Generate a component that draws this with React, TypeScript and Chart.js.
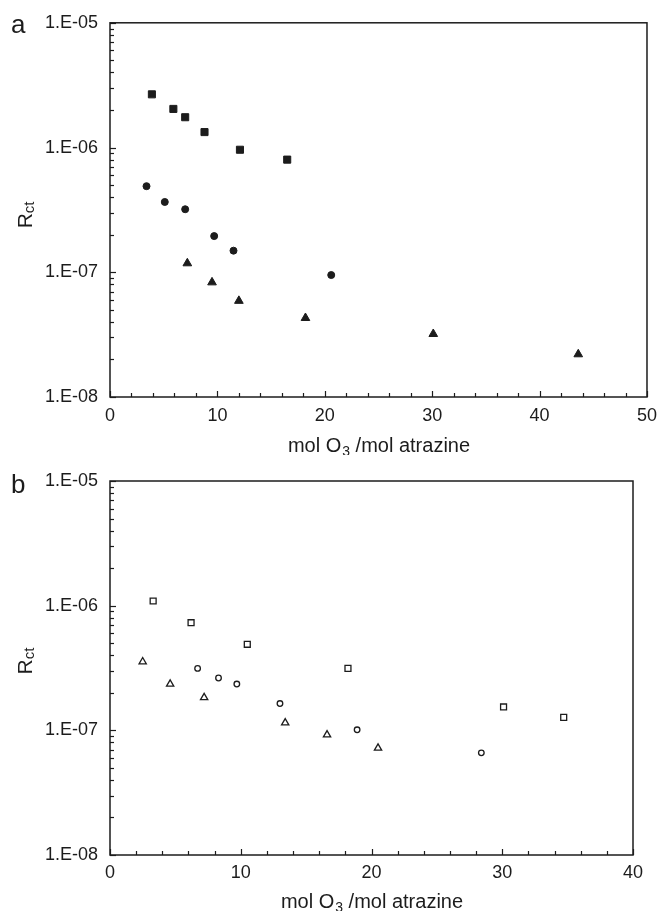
import React, { useEffect, useRef } from 'react';
import { Chart, registerables } from 'chart.js';

Chart.register(...registerables);

// ---------- data ----------
const yTickValues = [1e-8, 1e-7, 1e-6, 1e-5];
const yTickLabels = ['1.E-08', '1.E-07', '1.E-06', '1.E-05'];

const aXTickLabels = ['0', '10', '20', '30', '40', '50'];
const bXTickLabels = ['0', '10', '20', '30', '40'];

const aSquareX = [3.9, 5.9, 7.0, 8.8, 12.1, 16.5];
const aSquareY = [2.67e-6, 2.04e-6, 1.75e-6, 1.33e-6, 9.6e-7, 8.0e-7];
const aCircleX = [3.4, 5.1, 7.0, 9.7, 11.5, 20.6];
const aCircleY = [4.9e-7, 3.66e-7, 3.2e-7, 1.95e-7, 1.49e-7, 9.5e-8];
const aTriangleX = [7.2, 9.5, 12.0, 18.2, 30.1, 43.6];
const aTriangleY = [1.18e-7, 8.3e-8, 5.9e-8, 4.3e-8, 3.2e-8, 2.2e-8];

const bSquareX = [3.3, 6.2, 10.5, 18.2, 30.1, 34.7];
const bSquareY = [1.09e-6, 7.3e-7, 4.9e-7, 3.14e-7, 1.54e-7, 1.27e-7];
const bCircleX = [6.7, 8.3, 9.7, 13.0, 18.9, 28.4];
const bCircleY = [3.14e-7, 2.63e-7, 2.35e-7, 1.64e-7, 1.01e-7, 6.6e-8];
const bTriangleX = [2.5, 4.6, 7.2, 13.4, 16.6, 20.5];
const bTriangleY = [3.55e-7, 2.35e-7, 1.83e-7, 1.15e-7, 9.2e-8, 7.2e-8];

const xTitleMain = 'mol O';
const xTitleSub = '3';
const xTitleRest = ' /mol atrazine';
const yTitleMain = 'R';
const yTitleSub = 'ct';

// ---------- helpers ----------
const FONT = '"Liberation Sans", Arial, Helvetica, sans-serif';
const INK = '#1c1c1c';

const pts = (xs: number[], ys: number[]) => xs.map((x, i) => ({ x, y: ys[i] }));

const decorPlugin = {
  id: 'decor',
  beforeDatasetsDraw(chart: any) {
    const { ctx, chartArea } = chart;
    const { left, right, top, bottom } = chartArea;
    const xs = chart.scales.x;
    const ys = chart.scales.y;
    ctx.save();
    ctx.strokeStyle = INK;
    ctx.lineWidth = 1.5;
    ctx.strokeRect(left, top, right - left, bottom - top);
    ctx.lineWidth = 1.2;
    // y ticks (log, inward)
    for (let d = 0; d < yTickValues.length; d++) {
      const base = yTickValues[d];
      for (let m = 1; m <= 9; m++) {
        if (d === yTickValues.length - 1 && m > 1) break;
        const v = base * m;
        const py = Math.round(ys.getPixelForValue(v)) + 0.5;
        const len = m === 1 ? 6 : 4;
        ctx.beginPath();
        ctx.moveTo(left, py);
        ctx.lineTo(left + len, py);
        ctx.stroke();
      }
    }
    // x ticks (inward)
    for (const t of xs.ticks) {
      const px = Math.round(xs.getPixelForValue(t.value)) + 0.5;
      const major = t.value % 10 === 0;
      const len = major ? 6 : 4;
      ctx.beginPath();
      ctx.moveTo(px, bottom);
      ctx.lineTo(px, bottom - len);
      ctx.stroke();
    }
    ctx.restore();
  },
  afterDraw(chart: any, _args: any, opts: any) {
    const { ctx, chartArea } = chart;
    const { left, right, top, bottom } = chartArea;
    ctx.save();
    ctx.fillStyle = INK;
    ctx.textBaseline = 'alphabetic';
    // x title
    const big = `20px ${FONT}`;
    const small = `14px ${FONT}`;
    ctx.font = big;
    const w1 = ctx.measureText(xTitleMain).width;
    const w3 = ctx.measureText(xTitleRest).width;
    ctx.font = small;
    const w2 = ctx.measureText(xTitleSub).width;
    const total = w1 + w2 + w3;
    const x0 = (left + right) / 2 - total / 2;
    const yb = opts.xTitleBaseline;
    ctx.font = big;
    ctx.fillText(xTitleMain, x0, yb);
    ctx.font = small;
    ctx.fillText(xTitleSub, x0 + w1 + 1, yb + 4);
    ctx.font = big;
    ctx.fillText(xTitleRest, x0 + w1 + w2 + 1, yb);

    // y title rotated
    ctx.save();
    const cy = (top + bottom) / 2 + opts.yTitleShift;
    ctx.translate(opts.yTitleX, cy);
    ctx.rotate(-Math.PI / 2);
    const rBig = `21px ${FONT}`;
    const rSmall = `15px ${FONT}`;
    ctx.font = rBig;
    const r1 = ctx.measureText(yTitleMain).width;
    ctx.font = rSmall;
    const r2 = ctx.measureText(yTitleSub).width;
    const rs = -(r1 + r2) / 2;
    ctx.font = rBig;
    ctx.fillText(yTitleMain, rs, 0);
    ctx.font = rSmall;
    ctx.fillText(yTitleSub, rs + r1, 2);
    ctx.restore();

    // panel letter
    ctx.font = `26px ${FONT}`;
    ctx.fillText(opts.letter, 11, opts.letterBaseline);
    ctx.restore();
  },
};

type PanelProps = {
  top: number;
  height: number;
  padTop: number;
  padRight: number;
  plotBottom: number;
  xMax: number;
  xTickLabels: string[];
  letter: string;
  letterBaseline: number;
  xTitleBaseline: number;
  yTitleShift: number;
  xLabelPad: number;
  filled: boolean;
  squares: { x: number; y: number }[];
  circles: { x: number; y: number }[];
  triangles: { x: number; y: number }[];
};

function Panel(p: PanelProps) {
  const ref = useRef<HTMLCanvasElement | null>(null);
  useEffect(() => {
    if (!ref.current) return;
    const fill = p.filled ? INK : 'rgba(0,0,0,0)';
    const common = {
      showLine: false,
      borderColor: INK,
      backgroundColor: fill,
      pointBorderColor: INK,
      pointBackgroundColor: fill,
      pointBorderWidth: p.filled ? 1 : 1.3,
    };
    const chart = new Chart(ref.current, {
      type: 'scatter',
      data: {
        datasets: [
          { ...common, label: 'squares', data: p.squares, pointStyle: 'rect', pointRadius: p.filled ? 5.0 : 4.2 },
          { ...common, label: 'circles', data: p.circles, pointStyle: 'circle', pointRadius: p.filled ? 3.5 : 2.8 },
          { ...common, label: 'triangles', data: p.triangles, pointStyle: 'triangle', pointRadius: p.filled ? 5.0 : 4.2 },
        ],
      },
      options: {
        responsive: false,
        animation: false,
        events: [],
        layout: { padding: { top: p.padTop, right: p.padRight, left: 0, bottom: 0 } },
        plugins: {
          legend: { display: false },
          tooltip: { enabled: false },
          decor: {
            letter: p.letter,
            letterBaseline: p.letterBaseline,
            xTitleBaseline: p.xTitleBaseline,
            yTitleX: 32,
            yTitleShift: p.yTitleShift,
          },
        } as any,
        scales: {
          x: {
            type: 'linear',
            min: 0,
            max: p.xMax,
            grid: { display: false, drawTicks: false },
            border: { display: false },
            ticks: {
              stepSize: 2,
              autoSkip: false,
              maxRotation: 0,
              padding: p.xLabelPad,
              color: INK,
              font: { family: FONT, size: 18 },
              callback: (v: any) => {
                const s = String(v);
                return p.xTickLabels.includes(s) ? s : '';
              },
            },
            afterFit: (s: any) => {
              s.height = p.height - p.plotBottom;
            },
          },
          y: {
            type: 'logarithmic',
            min: yTickValues[0],
            max: yTickValues[yTickValues.length - 1],
            grid: { display: false, drawTicks: false },
            border: { display: false },
            afterBuildTicks: (s: any) => {
              s.ticks = yTickValues.map((v) => ({ value: v }));
            },
            ticks: {
              autoSkip: false,
              padding: 12,
              color: INK,
              font: { family: FONT, size: 18 },
              callback: (v: any) => {
                const i = yTickValues.findIndex((t) => Math.abs(t - v) / t < 1e-6);
                return i >= 0 ? yTickLabels[i] : '';
              },
            },
            afterFit: (s: any) => {
              s.width = 110;
            },
          },
        },
      },
      plugins: [decorPlugin as any],
    });
    return () => chart.destroy();
  }, []);
  return (
    <canvas
      ref={ref}
      width={665}
      height={p.height}
      style={{ position: 'absolute', left: 0, top: p.top, width: 665, height: p.height }}
    />
  );
}

export default function App() {
  return (
    <div style={{ position: 'absolute', left: 0, top: 0, width: 665, height: 911, background: '#fff' }}>
      <Panel
        top={0}
        height={455}
        padTop={21}
        padRight={13}
        plotBottom={397}
        xMax={50}
        xTickLabels={aXTickLabels}
        letter="a"
        letterBaseline={33}
        xTitleBaseline={452}
        yTitleShift={5}
        xLabelPad={8}
        filled={true}
        squares={pts(aSquareX, aSquareY)}
        circles={pts(aCircleX, aCircleY)}
        triangles={pts(aTriangleX, aTriangleY)}
      />
      <Panel
        top={455}
        height={456}
        padTop={26}
        padRight={32}
        plotBottom={400}
        xMax={40}
        xTickLabels={bXTickLabels}
        letter="b"
        letterBaseline={38}
        xTitleBaseline={453}
        yTitleShift={-7}
        xLabelPad={7}
        filled={false}
        squares={pts(bSquareX, bSquareY)}
        circles={pts(bCircleX, bCircleY)}
        triangles={pts(bTriangleX, bTriangleY)}
      />
    </div>
  );
}
